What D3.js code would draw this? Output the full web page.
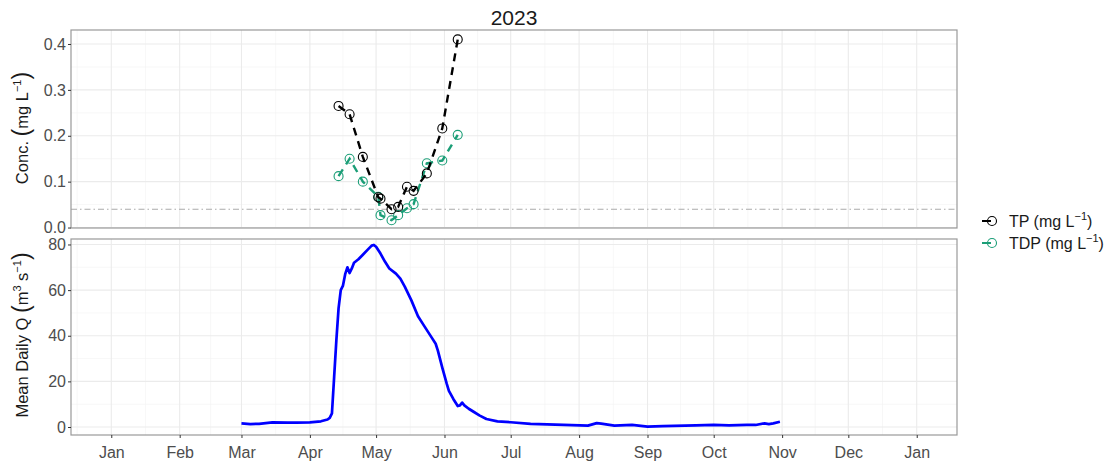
<!DOCTYPE html>
<html>
<head>
<meta charset="utf-8">
<script src="https://cdn.jsdelivr.net/npm/d3@7"></script>
<style>
  body { margin: 0; background: #fff; }
  text { font-family: "Liberation Sans", Arial, sans-serif; }
</style>
</head>
<body>
<div id="chart"></div>
<script>
// sample dates and concentrations (mg/L)
const sampleDates = ["2023-04-14", "2023-04-19", "2023-04-25", "2023-05-02", "2023-05-03", "2023-05-08",
  "2023-05-11", "2023-05-15", "2023-05-18", "2023-05-24", "2023-05-31", "2023-06-07"];
const tpValues  = [0.265, 0.247, 0.154, 0.066, 0.063, 0.040, 0.045, 0.089, 0.080, 0.118, 0.216, 0.410];
const tdpValues = [0.112, 0.150, 0.100, 0.067, 0.027, 0.016, 0.027, 0.042, 0.051, 0.140, 0.146, 0.202];
const refLevel = 0.04;

// mean daily discharge (m3/s)
const qDates = ["2023-03-01", "2023-03-05", "2023-03-09", "2023-03-15", "2023-03-22", "2023-03-26",
  "2023-04-01", "2023-04-06", "2023-04-09", "2023-04-10", "2023-04-11", "2023-04-12", "2023-04-13",
  "2023-04-14", "2023-04-15", "2023-04-16", "2023-04-17", "2023-04-18", "2023-04-19", "2023-04-20",
  "2023-04-21", "2023-04-23", "2023-04-25", "2023-04-27", "2023-04-29", "2023-04-30", "2023-05-01",
  "2023-05-03", "2023-05-05", "2023-05-07", "2023-05-10", "2023-05-12", "2023-05-14", "2023-05-17",
  "2023-05-20", "2023-05-23", "2023-05-26", "2023-05-28", "2023-05-29", "2023-05-31", "2023-06-01",
  "2023-06-02", "2023-06-03", "2023-06-05", "2023-06-07", "2023-06-08", "2023-06-09", "2023-06-10",
  "2023-06-12", "2023-06-14", "2023-06-17", "2023-06-20", "2023-06-25", "2023-07-01", "2023-07-10",
  "2023-07-25", "2023-08-05", "2023-08-09", "2023-08-11", "2023-08-17", "2023-08-25", "2023-09-01",
  "2023-09-08", "2023-09-23", "2023-10-01", "2023-10-08", "2023-10-16", "2023-10-20", "2023-10-24",
  "2023-10-26", "2023-10-28", "2023-10-31"];
const qValues = [1.6, 1.3, 1.4, 2.0, 1.9, 1.9,
  2.0, 2.5, 3.3, 4.0, 6, 22, 38,
  52, 60, 62, 67, 70, 67.5, 69.5,
  72, 73.5, 75.5, 77.5, 79.5, 79.8, 79,
  76, 72.5, 69.5, 67.2, 65, 61.5, 55.5,
  48.5, 44, 39.5, 36.5, 33.5, 26, 22.5,
  19, 15.8, 12.3, 9.2, 9.5, 10.7, 9.5,
  8, 6.8, 5, 3.5, 2.5, 2.1, 1.4,
  0.9, 0.6, 1.7, 1.5, 0.6, 0.9, 0.2,
  0.4, 0.7, 0.9, 0.7, 0.9, 0.9, 1.6,
  1.3, 1.6, 2.3];

const concTicks = [0, 0.1, 0.2, 0.3, 0.4];
const qTicks = [0, 20, 40, 60, 80];
const monthTicks = ["2023-01-01", "2023-02-01", "2023-03-01", "2023-04-01", "2023-05-01", "2023-06-01",
  "2023-07-01", "2023-08-01", "2023-09-01", "2023-10-01", "2023-11-01", "2023-12-01", "2024-01-01"];

const W = 1108, H = 468;
const parse = d3.timeParse("%Y-%m-%d");
const day = 864e5;
const tp = sampleDates.map((d, i) => ({date: parse(d), v: tpValues[i]}));
const tdp = sampleDates.map((d, i) => ({date: parse(d), v: tdpValues[i]}));
const q = qDates.map((d, i) => ({date: parse(d), v: qValues[i]}));
const months = monthTicks.map(parse);

const svg = d3.select("#chart").append("svg")
    .attr("width", W).attr("height", H);

const left = 71, right = 957;
const x = d3.scaleTime()
    .domain([new Date(+months[0] - 18.25 * day), new Date(+months[12] + 18.25 * day)])
    .range([left, right]);
const yTop = d3.scaleLinear().domain([-0.001, 0.4305]).range([228, 30]);
const yBot = d3.scaleLinear().domain([-3.5, 82.4]).range([435, 239]);

// minor breaks halfway between majors
const xMinor = d3.pairs(months).map(([a, b]) => new Date((+a + +b) / 2));
xMinor.unshift(new Date(+months[0] - (months[1] - months[0]) / 2));

function panel(y, majors, top, bottom) {
    const g = svg.append("g");
    const yMinor = d3.pairs(majors).map(([a, b]) => (a + b) / 2);
    g.selectAll(".ymin").data(yMinor).enter().append("line")
        .attr("x1", left).attr("x2", right)
        .attr("y1", d => y(d)).attr("y2", d => y(d))
        .attr("stroke", "#f2f2f2").attr("stroke-width", 0.6);
    g.selectAll(".xmin").data(xMinor).enter().append("line")
        .attr("x1", d => x(d)).attr("x2", d => x(d))
        .attr("y1", top).attr("y2", bottom)
        .attr("stroke", "#f2f2f2").attr("stroke-width", 0.6);
    g.selectAll(".ymaj").data(majors).enter().append("line")
        .attr("x1", left).attr("x2", right)
        .attr("y1", d => y(d)).attr("y2", d => y(d))
        .attr("stroke", "#ebebeb").attr("stroke-width", 1.1);
    g.selectAll(".xmaj").data(months).enter().append("line")
        .attr("x1", d => x(d)).attr("x2", d => x(d))
        .attr("y1", top).attr("y2", bottom)
        .attr("stroke", "#ebebeb").attr("stroke-width", 1.1);
    return g;
}

panel(yTop, concTicks, 30, 228);
panel(yBot, qTicks, 239, 435);

// reference line
svg.append("line")
    .attr("x1", left).attr("x2", right)
    .attr("y1", yTop(refLevel)).attr("y2", yTop(refLevel))
    .attr("stroke", "#aaaaaa").attr("stroke-width", 1.1)
    .attr("stroke-dasharray", "6,3,1.5,3");

// concentration lines and points
const lineTop = d3.line().x(d => x(d.date)).y(d => yTop(d.v));
const series = [{data: tdp, color: "#1b9e77"}, {data: tp, color: "#000000"}];
series.forEach(s => {
    svg.append("path").datum(s.data)
        .attr("d", lineTop)
        .attr("fill", "none").attr("stroke", s.color)
        .attr("stroke-width", 2.4).attr("stroke-dasharray", "8,6");
    svg.selectAll(null).data(s.data).enter().append("circle")
        .attr("cx", d => x(d.date)).attr("cy", d => yTop(d.v))
        .attr("r", 4.5).attr("fill", "none")
        .attr("stroke", s.color).attr("stroke-width", 1.1);
});

// discharge
const lineBot = d3.line().x(d => x(d.date)).y(d => yBot(d.v));
svg.append("path").datum(q)
    .attr("d", lineBot)
    .attr("fill", "none").attr("stroke", "#0000ff")
    .attr("stroke-width", 2.7).attr("stroke-linejoin", "round");

// borders
[[30, 228], [239, 435]].forEach(([t, b]) => {
    svg.append("rect").attr("x", left).attr("y", t)
        .attr("width", right - left).attr("height", b - t)
        .attr("fill", "none").attr("stroke", "#999999").attr("stroke-width", 1.2);
});

// axes
const yAxisTop = svg.append("g").attr("transform", `translate(${left},0)`)
    .call(d3.axisLeft(yTop).tickValues(concTicks).tickFormat(d3.format(".1f")).tickSize(3).tickPadding(2));
const yAxisBot = svg.append("g").attr("transform", `translate(${left},0)`)
    .call(d3.axisLeft(yBot).tickValues(qTicks).tickSize(3).tickPadding(2));
const xAxis = svg.append("g").attr("transform", "translate(0,435)")
    .call(d3.axisBottom(x).tickValues(months).tickFormat(d3.timeFormat("%b")).tickSize(3).tickPadding(9));
[yAxisTop, yAxisBot, xAxis].forEach(a => {
    a.select(".domain").remove();
    a.selectAll(".tick line").attr("stroke", "#333333");
    a.selectAll(".tick text").attr("fill", "#4d4d4d")
        .style("font-size", "16px").style("font-family", "'Liberation Sans', Arial, sans-serif");
});

// title
svg.append("text").attr("x", (left + right) / 2).attr("y", 25)
    .attr("text-anchor", "middle").style("font-size", "21px").attr("fill", "#1a1a1a")
    .text("2023");

// y titles
function yTitle(cy, parts) {
    const t = svg.append("text")
        .attr("transform", `translate(28,${cy}) rotate(-90)`)
        .attr("text-anchor", "middle").style("font-size", "16.5px").attr("fill", "#1a1a1a");
    parts.forEach(p => {
        const s = t.append("tspan").text(p.t);
        if (p.big) s.style("font-size", "23px").attr("dy", p.dy || 0);
        if (p.sup) s.style("font-size", "11px").attr("dy", p.dy);
        if (!p.big && !p.sup && p.dy) s.attr("dy", p.dy);
    });
}
yTitle(128, [
    {t: "Conc. "}, {t: "(", big: true, dy: 1}, {t: "mg L", dy: -1}, {t: "\u22121", sup: true, dy: -7},
    {t: ")", big: true, dy: 8}
]);
yTitle(335, [
    {t: "Mean Daily Q "}, {t: "(", big: true, dy: 1}, {t: "m", dy: -1}, {t: "3", sup: true, dy: -7},
    {t: " s", dy: 7}, {t: "\u22121", sup: true, dy: -7}, {t: ")", big: true, dy: 8}
]);

// legend
const legend = svg.append("g");
[{label: "TP", color: "#000000", y: 221}, {label: "TDP", color: "#1b9e77", y: 243}].forEach(k => {
    legend.append("line").attr("x1", 982).attr("x2", 991).attr("y1", k.y).attr("y2", k.y)
        .attr("stroke", k.color).attr("stroke-width", 2);
    legend.append("circle").attr("cx", 992).attr("cy", k.y).attr("r", 4.5)
        .attr("fill", "none").attr("stroke", k.color).attr("stroke-width", 1.1);
    const t = legend.append("text").attr("x", 1009).attr("y", k.y + 5.5)
        .style("font-size", "16px").attr("fill", "#1a1a1a");
    t.append("tspan").text(k.label + " (mg L");
    t.append("tspan").text("\u22121").style("font-size", "11px").attr("dy", -7);
    t.append("tspan").text(")").attr("dy", 7);
});
</script>
</body>
</html>
